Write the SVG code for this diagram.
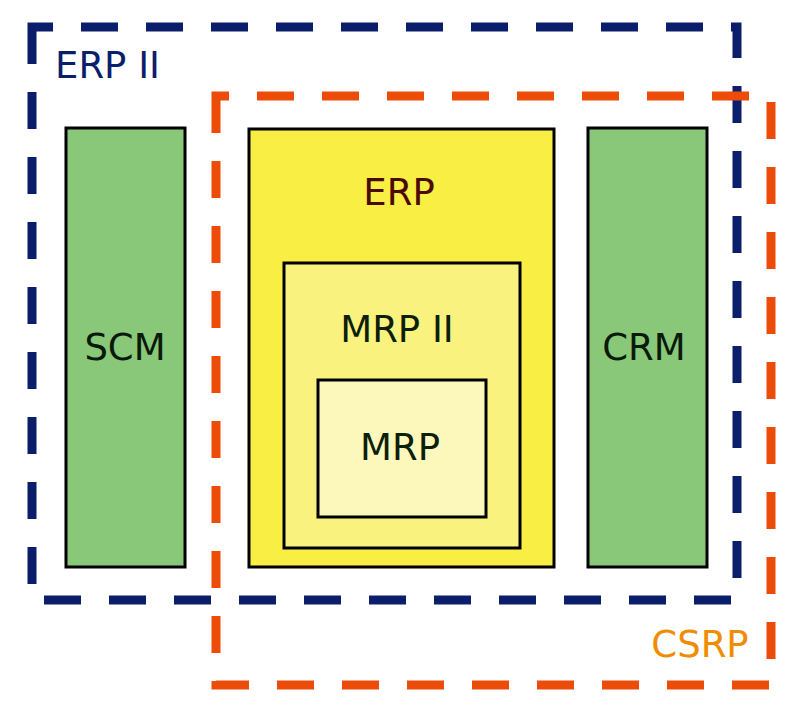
<svg xmlns="http://www.w3.org/2000/svg" width="802" height="713" viewBox="0 0 802 713">
<style>
.box{stroke:#000;stroke-width:3}
.lbl{font-family:"DejaVu Sans",sans-serif;font-size:37px;text-anchor:middle}
.dash{fill:none;stroke-width:9;stroke-dasharray:37 28}
</style>
<rect width="802" height="713" fill="#fff"/>
<g id="SCM"><rect class="box" x="66" y="128" width="119" height="439" fill="#88C878"/><text class="lbl" x="125" y="360" fill="#0a1a0a">SCM</text></g>
<g id="CRM"><rect class="box" x="588" y="128" width="119" height="439" fill="#88C878"/><text class="lbl" x="644" y="360" fill="#0a1a0a">CRM</text></g>
<g id="ERP"><rect class="box" x="249" y="129" width="305" height="438" fill="#F8EE44"/><text class="lbl" x="399" y="205" fill="#4a0a00">ERP</text></g>
<g id="MRPII"><rect class="box" x="284" y="263" width="236" height="285" fill="#FAF27E"/><text class="lbl" x="397" y="342" fill="#0a200a">MRP II</text></g>
<g id="MRP"><rect class="box" x="318" y="380" width="168" height="137" fill="#FCF8BC"/><text class="lbl" x="400" y="460" fill="#0a200a">MRP</text></g>
<g id="connectors"></g>
<g id="ERPII"><path class="dash" d="M32,27 V600 H737 V27 Z" stroke="#0A1E6C"/><text class="lbl" x="55" y="78" text-anchor="start" style="text-anchor:start" fill="#0A1E6C">ERP II</text></g>
<g id="CSRP"><path class="dash" d="M216,96 V685 H771 V96 Z" stroke="#EC4C08"/><text class="lbl" x="700" y="657" fill="#F08C00">CSRP</text></g>
</svg>
